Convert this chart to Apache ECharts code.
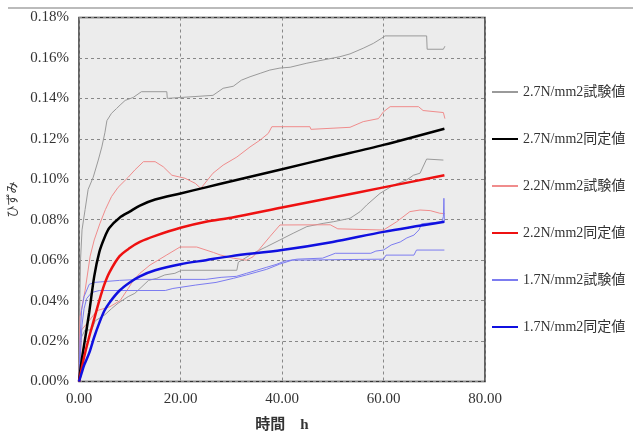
<!DOCTYPE html>
<html>
<head>
<meta charset="utf-8">
<script src="https://cdn.jsdelivr.net/npm/echarts@6/dist/echarts.min.js"></script>
<style>
  html, body { margin: 0; padding: 0; background: #fff; }
  #chart { width: 640px; height: 433px; }
</style>
</head>
<body>
<div id="chart"></div>
<script>
// 時間 h
const xTicks = [0, 20, 40, 60, 80];
const yTicks = [0, 0.02, 0.04, 0.06, 0.08, 0.1, 0.12, 0.14, 0.16, 0.18];
const legendNames = [
  "2.7N/mm2試験値", "2.7N/mm2同定値",
  "2.2N/mm2試験値", "2.2N/mm2同定値",
  "1.7N/mm2試験値", "1.7N/mm2同定値",
];

// identified (fitted) curves, ひずみ in %
const fitHours = [0, 0.5, 1, 2, 3, 4, 5, 6, 8, 10, 12, 15, 20, 25, 30, 40, 50, 60, 72];
const fit27 = [0, 0.010, 0.018, 0.034, 0.052, 0.064, 0.071, 0.076, 0.081, 0.084, 0.087, 0.090, 0.093, 0.096, 0.099, 0.105, 0.111, 0.117, 0.125];
const fit22 = [0, 0.006, 0.012, 0.022, 0.031, 0.040, 0.048, 0.054, 0.062, 0.066, 0.069, 0.072, 0.076, 0.079, 0.081, 0.086, 0.091, 0.096, 0.102];
const fit17 = [0, 0.004, 0.008, 0.014, 0.022, 0.029, 0.035, 0.039, 0.045, 0.049, 0.052, 0.055, 0.058, 0.060, 0.062, 0.065, 0.069, 0.074, 0.079];

// test results [h, %]
const test27a = [[0,0],[0.1,0.03],[0.3,0.06],[0.6,0.075],[1.2,0.085],[1.8,0.095],[2.8,0.101],[3.8,0.1095],[4.5,0.116],[5.1,0.123],[5.5,0.129],[6.4,0.1326],[7.4,0.135],[8.1,0.1367],[9.1,0.139],[10.7,0.1405],[12.3,0.1433],[17.3,0.1433],[17.4,0.140],[17.6,0.1405],[26.4,0.1415],[28.4,0.145],[30.4,0.146],[32,0.149],[33.7,0.1507],[35.7,0.1524],[37.6,0.154],[39.6,0.155],[41.6,0.1554],[44.9,0.1574],[47.5,0.1587],[51.4,0.1606],[53.4,0.162],[56,0.1648],[58,0.1672],[59.6,0.1697],[60.3,0.1709],[68.5,0.1709],[68.6,0.1643],[71.8,0.1643],[72.1,0.1658]];
const test27b = [[0,0],[0.2,0.0205],[1.2,0.0255],[2.5,0.0255],[3.2,0.030],[5.1,0.033],[6.4,0.036],[7.7,0.0387],[9.7,0.042],[11,0.0436],[12.4,0.0469],[13.7,0.050],[15.3,0.051],[16.9,0.0527],[18.9,0.0535],[20.2,0.055],[31.1,0.055],[31.4,0.059],[34.3,0.0634],[37,0.0667],[39.6,0.070],[42.2,0.0733],[44.9,0.0766],[48.1,0.0782],[50.1,0.079],[53.4,0.0807],[55.4,0.084],[56.7,0.0873],[59.3,0.093],[61.9,0.097],[64.6,0.0997],[65.9,0.102],[67.2,0.103],[68.5,0.110],[71.8,0.1095]];
const test22a = [[0,0],[0.1,0.02],[0.2,0.032],[1.2,0.045],[2.2,0.062],[3,0.07],[4.1,0.078],[5.2,0.085],[6.4,0.0914],[7.7,0.096],[9.7,0.101],[11,0.1046],[12.7,0.1087],[15,0.1087],[16.6,0.1062],[18.3,0.102],[20.9,0.1005],[22.9,0.098],[24,0.0955],[26.4,0.103],[28.4,0.107],[31.1,0.111],[33.7,0.116],[35.7,0.1194],[37.3,0.1227],[38,0.126],[45.5,0.126],[45.7,0.1247],[53.4,0.1257],[56,0.1285],[59,0.130],[60,0.1334],[61.3,0.1359],[66.9,0.1359],[67.8,0.134],[71.8,0.133],[72.1,0.130]];
const test22b = [[0,0],[0.3,0.012],[0.5,0.0255],[2,0.03],[3.5,0.035],[6.1,0.037],[8.1,0.040],[9.7,0.046],[10.7,0.050],[12,0.0535],[14,0.0576],[17.3,0.0626],[19.9,0.0665],[23.2,0.0665],[26.5,0.0638],[27.8,0.0626],[30.4,0.061],[33,0.060],[34.3,0.0617],[35.7,0.0659],[37.6,0.0716],[39.6,0.0774],[49.5,0.0775],[51,0.0755],[60,0.0749],[62.6,0.079],[65.2,0.084],[67.2,0.0848],[69.2,0.0845],[71.1,0.0832],[72.1,0.083]];
const test17a = [[0,0],[0.2,0.02],[0.5,0.035],[1,0.042],[2,0.048],[3,0.049],[8,0.050],[12,0.0505],[25,0.0505],[28,0.0515],[31,0.052],[33,0.0535],[35,0.055],[37,0.0565],[39,0.058],[40.5,0.0595],[43,0.0605],[48,0.061],[50.5,0.0634],[57.5,0.0634],[58.5,0.0645],[60,0.065],[61.5,0.0675],[63.3,0.069],[64.6,0.071],[66,0.0724],[67,0.075],[67.5,0.078],[71.5,0.079],[71.8,0.0815],[71.9,0.0906],[72,0.079]];
const test17b = [[0,0],[0.3,0.015],[0.6,0.028],[1,0.036],[1.5,0.041],[2.5,0.044],[4,0.045],[17,0.045],[18.5,0.046],[23,0.0477],[27,0.049],[30.4,0.051],[33,0.0527],[37,0.0555],[39.5,0.058],[42,0.060],[60,0.0605],[60.5,0.0625],[66,0.0625],[66.5,0.065],[72,0.065]];

const FONT = "'Liberation Serif', 'Noto Sans CJK JP', serif";

const chartDom = document.getElementById("chart");
const myChart = echarts.init(chartDom);

function testLine(name, data, color) {
  return {
    name: name, type: "line", data: data,
    symbol: "none", lineStyle: { color: color, width: 1 }, itemStyle: { color: color },
  };
}
function fitLine(name, ys, color) {
  return {
    name: name, type: "line", smooth: 0.3,
    data: fitHours.map((h, i) => [h, ys[i]]),
    symbol: "none", lineStyle: { color: color, width: 2.5 }, itemStyle: { color: color }, z: 5,
  };
}

const option = {
  animation: false,
  grid: {
    left: 79, right: 155, top: 17.5, bottom: 51.5,
    outerBoundsMode: "none", containLabel: false,
    show: true, backgroundColor: "#ececec", borderColor: "#333", borderWidth: 1.5,
  },
  legend: {
    orient: "vertical", left: 486, top: 80, itemGap: 33,
    itemWidth: 26, itemHeight: 14,
    data: legendNames,
    itemStyle: { opacity: 0 },
    textStyle: { fontFamily: FONT, fontSize: 14, color: "#333" },
  },
  xAxis: {
    type: "value", min: xTicks[0], max: xTicks[xTicks.length - 1], interval: 20,
    name: "時間　h", nameLocation: "middle", nameGap: 36,
    nameTextStyle: { fontFamily: FONT, fontSize: 15, fontWeight: "bold", color: "#333" },
    axisLine: { show: false }, axisTick: { show: false },
    axisLabel: { fontFamily: FONT, fontSize: 15, color: "#333", margin: 10, formatter: (v) => v.toFixed(2) },
    splitLine: { lineStyle: { color: "#888", type: [3, 3], width: 1 } },
  },
  yAxis: {
    type: "value", min: yTicks[0], max: yTicks[yTicks.length - 1], interval: 0.02,
    name: "ひずみ", nameLocation: "middle", nameGap: 54, nameRotate: 90,
    nameTextStyle: { fontFamily: FONT, fontSize: 12, color: "#333" },
    axisLine: { show: false }, axisTick: { show: false },
    axisLabel: { fontFamily: FONT, fontSize: 15, color: "#333", margin: 10, formatter: (v) => v.toFixed(2) + "%" },
    splitLine: { lineStyle: { color: "#888", type: [3, 3], width: 1 } },
  },
  graphic: [
    { type: "line", shape: { x1: 8, y1: 8, x2: 633, y2: 8 }, style: { stroke: "#bbb", lineWidth: 2 } },
  ],
  series: [
    testLine(legendNames[0], test27a, "#9a9a9a"),
    testLine(legendNames[0], test27b, "#9a9a9a"),
    testLine(legendNames[2], test22a, "#f08c8c"),
    testLine(legendNames[2], test22b, "#f08c8c"),
    testLine(legendNames[4], test17a, "#7c7cf0"),
    testLine(legendNames[4], test17b, "#7c7cf0"),
    fitLine(legendNames[1], fit27, "#000000"),
    fitLine(legendNames[3], fit22, "#ee1111"),
    fitLine(legendNames[5], fit17, "#1010e0"),
  ],
};

option && myChart.setOption(option);
</script>
</body>
</html>
